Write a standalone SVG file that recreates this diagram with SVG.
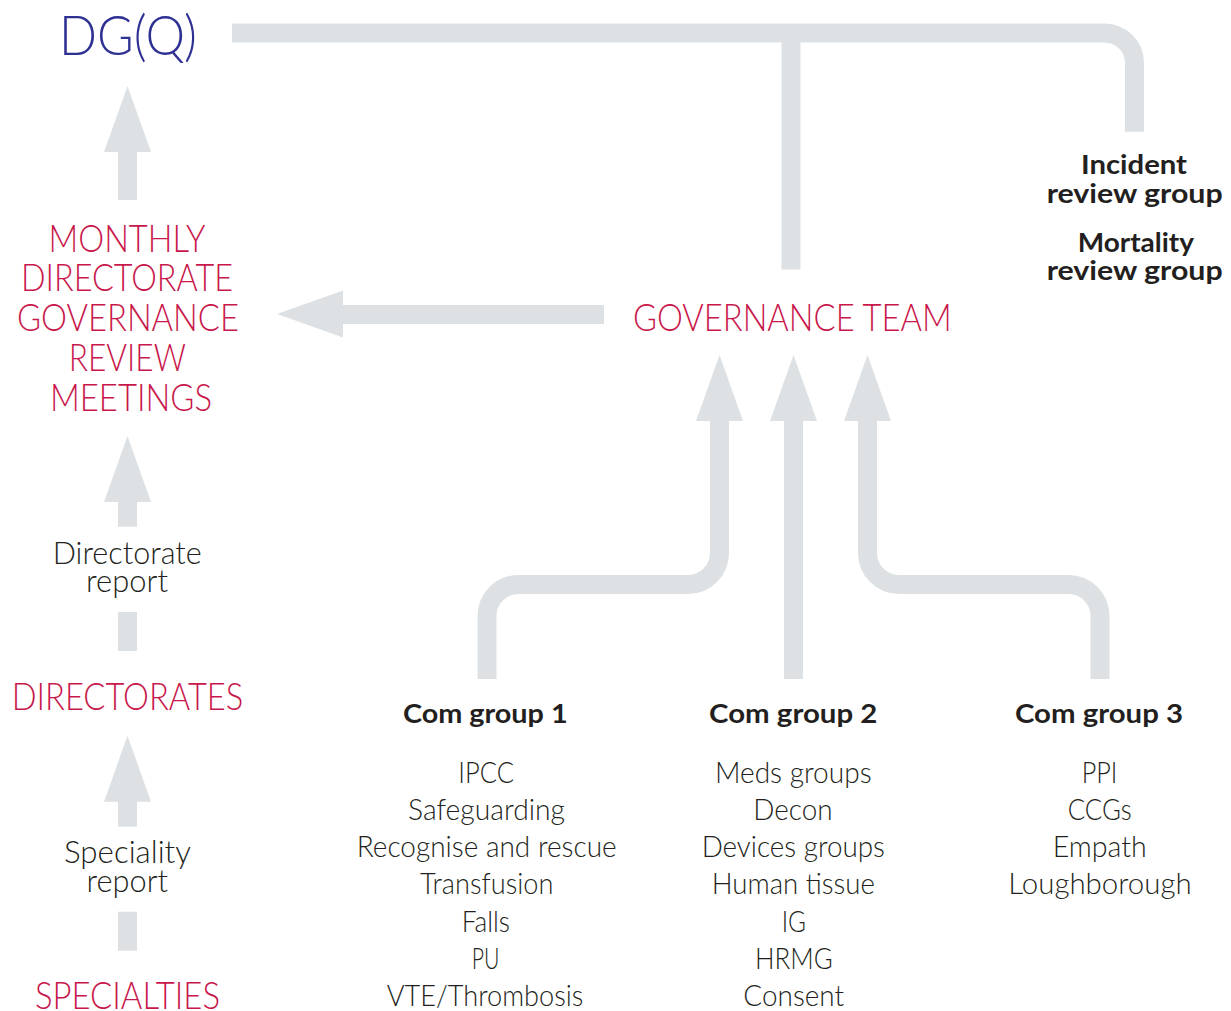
<svg xmlns="http://www.w3.org/2000/svg" xmlns:xlink="http://www.w3.org/1999/xlink" width="1231" height="1011" viewBox="0 0 1231 1011">
  <style>
    .pipe { fill: none; stroke: #dde1e3; stroke-width: 19; stroke-linecap: butt; stroke-linejoin: miter; }
    .head { fill: #dde1e3; }
    .lbl { font-family: Lato, "Liberation Sans", Arial, sans-serif; font-weight: 300; text-anchor: middle; }
    .navy { fill: #2e3192; font-size: 56px; }
    .red { fill: #c8174b; font-size: 38px; }
    .note { fill: #231f20; font-size: 32px; }
    .item { fill: #231f20; font-size: 29.5px; }
    .bold { font-family: Lato, "Liberation Sans", Arial, sans-serif; font-weight: 700; text-anchor: middle; fill: #231f20; font-size: 27px; }
  </style>
  <defs>
    <!-- arrowhead pointing up, tip at the origin -->
    <path id="head" class="head" d="M0,0 L23.5,66 L-23.5,66 Z"/>
  </defs>

  <rect width="1231" height="1011" fill="#ffffff"/>

  <g id="connectors">
    <!-- top bus from DG(Q) to the review groups, with the stem down to the governance team -->
    <path class="pipe" d="M232,33 H1104.5 A30,30 0 0 1 1134.5,63 V131.7"/>
    <path class="pipe" d="M791,33 V269.5"/>

    <!-- left column: specialties up to DG(Q) -->
    <path class="pipe" d="M127.5,152 V200"/>
    <use xlink:href="#head" transform="translate(127.5,86)"/>
    <path class="pipe" d="M127.5,501 V526.7"/>
    <use xlink:href="#head" transform="translate(127.5,436)"/>
    <path class="pipe" d="M127.5,612 V651"/>
    <path class="pipe" d="M127.5,800.7 V826.7"/>
    <use xlink:href="#head" transform="translate(127.5,735.7)"/>
    <path class="pipe" d="M127.5,911.7 V950.7"/>

    <!-- governance team to monthly meetings -->
    <path class="pipe" d="M342,314.5 H604"/>
    <use xlink:href="#head" transform="translate(277,314) rotate(-90)"/>

    <!-- committee groups up to the governance team -->
    <path class="pipe" d="M487,679 V616 A31.5,31.5 0 0 1 518.5,584.5 H688 A31.5,31.5 0 0 0 719.5,553 V421"/>
    <use xlink:href="#head" transform="translate(719.5,355)"/>
    <path class="pipe" d="M793.5,679 V421"/>
    <use xlink:href="#head" transform="translate(793.5,355)"/>
    <path class="pipe" d="M1100,679 V616 A31.5,31.5 0 0 0 1068.5,584.5 H899 A31.5,31.5 0 0 1 867.5,553 V421"/>
    <use xlink:href="#head" transform="translate(867.5,355)"/>
  </g>

  <g id="dgq">
    <text class="lbl navy" x="128" y="55" textLength="138" lengthAdjust="spacingAndGlyphs">DG(Q)</text>
  </g>

  <g id="monthly-meetings">
    <text class="lbl red" x="127" y="251.7" textLength="157" lengthAdjust="spacingAndGlyphs">MONTHLY</text>
    <text class="lbl red" x="127" y="291.3" textLength="212" lengthAdjust="spacingAndGlyphs">DIRECTORATE</text>
    <text class="lbl red" x="128" y="331" textLength="222" lengthAdjust="spacingAndGlyphs">GOVERNANCE</text>
    <text class="lbl red" x="127.3" y="370.7" textLength="117" lengthAdjust="spacingAndGlyphs">REVIEW</text>
    <text class="lbl red" x="131" y="411" textLength="162" lengthAdjust="spacingAndGlyphs">MEETINGS</text>
  </g>

  <g id="directorate-report">
    <text class="lbl note" x="127.2" y="564" textLength="149" lengthAdjust="spacingAndGlyphs">Directorate</text>
    <text class="lbl note" x="127" y="591.7" textLength="82" lengthAdjust="spacingAndGlyphs">report</text>
  </g>

  <g id="directorates">
    <text class="lbl red" x="127.5" y="710" textLength="231.6" lengthAdjust="spacingAndGlyphs">DIRECTORATES</text>
  </g>

  <g id="speciality-report">
    <text class="lbl note" x="127.5" y="863" textLength="127" lengthAdjust="spacingAndGlyphs">Speciality</text>
    <text class="lbl note" x="127.3" y="891.7" textLength="81.5" lengthAdjust="spacingAndGlyphs">report</text>
  </g>

  <g id="specialties">
    <text class="lbl red" x="127.5" y="1008.5" textLength="185" lengthAdjust="spacingAndGlyphs">SPECIALTIES</text>
  </g>

  <g id="governance-team">
    <text class="lbl red" x="792.3" y="331" textLength="318.7" lengthAdjust="spacingAndGlyphs">GOVERNANCE TEAM</text>
  </g>

  <g id="review-groups">
    <text class="bold" x="1134" y="174" textLength="106" lengthAdjust="spacingAndGlyphs">Incident</text>
    <text class="bold" x="1134.7" y="203" textLength="176" lengthAdjust="spacingAndGlyphs">review group</text>
    <text class="bold" x="1135.8" y="251.7" textLength="116.3" lengthAdjust="spacingAndGlyphs">Mortality</text>
    <text class="bold" x="1134.7" y="280" textLength="176" lengthAdjust="spacingAndGlyphs">review group</text>
  </g>

  <g id="com-group-1">
    <text class="bold" x="485.3" y="723" textLength="164.7" lengthAdjust="spacingAndGlyphs">Com group 1</text>
    <text class="lbl item" x="486.2" y="782.5" textLength="55.7" lengthAdjust="spacingAndGlyphs">IPCC</text>
    <text class="lbl item" x="486.5" y="819.8" textLength="157" lengthAdjust="spacingAndGlyphs">Safeguarding</text>
    <text class="lbl item" x="486.7" y="857" textLength="260" lengthAdjust="spacingAndGlyphs">Recognise and rescue</text>
    <text class="lbl item" x="486.7" y="894.3" textLength="133.3" lengthAdjust="spacingAndGlyphs">Transfusion</text>
    <text class="lbl item" x="485.8" y="931.5" textLength="48.3" lengthAdjust="spacingAndGlyphs">Falls</text>
    <text class="lbl item" x="485.5" y="968.8" textLength="27.7" lengthAdjust="spacingAndGlyphs">PU</text>
    <text class="lbl item" x="485" y="1006" textLength="196.7" lengthAdjust="spacingAndGlyphs">VTE/Thrombosis</text>
  </g>

  <g id="com-group-2">
    <text class="bold" x="793.2" y="723" textLength="168.3" lengthAdjust="spacingAndGlyphs">Com group 2</text>
    <text class="lbl item" x="793.3" y="782.5" textLength="156.7" lengthAdjust="spacingAndGlyphs">Meds groups</text>
    <text class="lbl item" x="793" y="819.8" textLength="79.3" lengthAdjust="spacingAndGlyphs">Decon</text>
    <text class="lbl item" x="793.3" y="857" textLength="183.3" lengthAdjust="spacingAndGlyphs">Devices groups</text>
    <text class="lbl item" x="793.3" y="894.3" textLength="163.3" lengthAdjust="spacingAndGlyphs">Human tissue</text>
    <text class="lbl item" x="793.8" y="931.5" textLength="24.3" lengthAdjust="spacingAndGlyphs">IG</text>
    <text class="lbl item" x="793.8" y="968.8" textLength="77.7" lengthAdjust="spacingAndGlyphs">HRMG</text>
    <text class="lbl item" x="793.7" y="1006" textLength="100.7" lengthAdjust="spacingAndGlyphs">Consent</text>
  </g>

  <g id="com-group-3">
    <text class="bold" x="1099" y="723" textLength="168" lengthAdjust="spacingAndGlyphs">Com group 3</text>
    <text class="lbl item" x="1099.5" y="782.5" textLength="35.7" lengthAdjust="spacingAndGlyphs">PPI</text>
    <text class="lbl item" x="1099.7" y="819.8" textLength="64" lengthAdjust="spacingAndGlyphs">CCGs</text>
    <text class="lbl item" x="1099.7" y="857" textLength="94" lengthAdjust="spacingAndGlyphs">Empath</text>
    <text class="lbl item" x="1100" y="894.3" textLength="183.3" lengthAdjust="spacingAndGlyphs">Loughborough</text>
  </g>
</svg>
